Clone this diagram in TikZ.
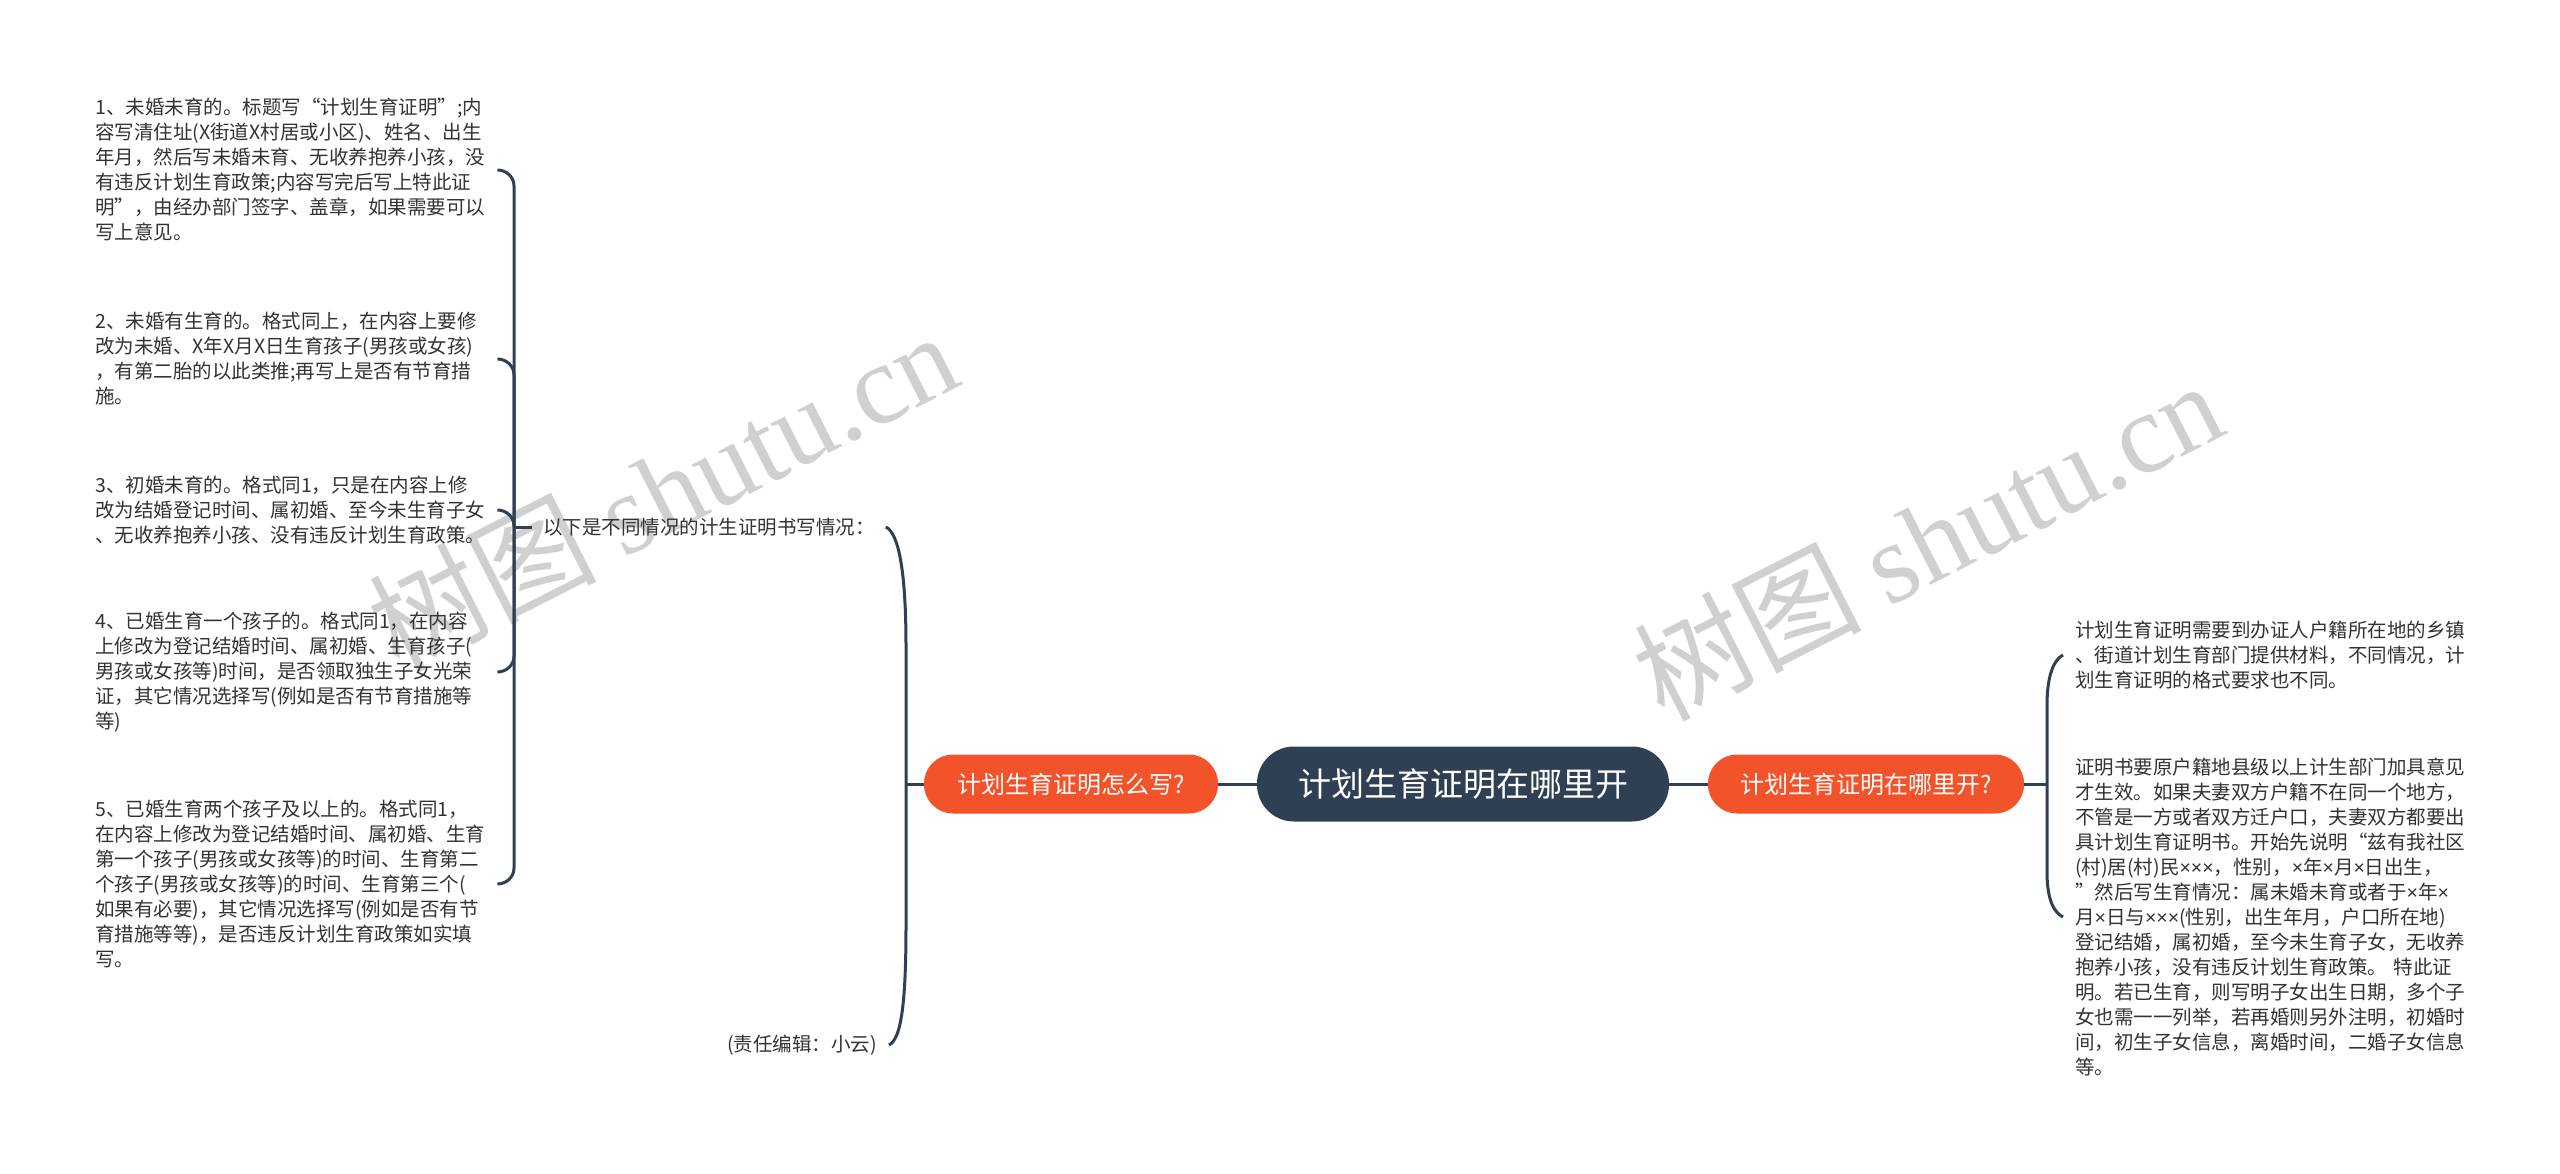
\documentclass[tikz,border=0pt]{standalone}
\usepackage{fontspec}
\setmainfont{Noto Sans CJK SC}
\newfontfamily\wmserif{Liberation Serif}
\newfontfamily\wmcjk{Noto Sans CJK SC}
\newfontfamily\latinsans{Liberation Sans}
\newcommand{\tms}{{\latinsans ×}}
\usetikzlibrary{calc}
\definecolor{dark}{HTML}{2F4054}
\definecolor{orng}{HTML}{F2532A}
\definecolor{txt}{HTML}{333333}
\definecolor{wm}{HTML}{D0D0D0}
\begin{document}
\begin{tikzpicture}[x=1pt,y=-1pt,
  conn/.style={draw=dark, line width=3pt},
  central/.style={fill=dark, text=white, rounded corners=37pt, minimum width=412pt, minimum height=75pt, inner sep=0pt, font=\fontsize{33}{40}\selectfont},
  topic/.style={fill=orng, text=white, rounded corners=29pt, minimum height=59pt, inner sep=0pt, font=\fontsize{24}{30}\selectfont},
  leaf/.style={text=txt, align=left, inner sep=0pt, font=\fontsize{19.5}{25}\selectfont},
  wmark/.style={text=wm, rotate=27, inner sep=0pt, font=\fontsize{114}{120}\selectfont}
]
\fill[white] (0,0) rectangle (2560,1174);

% watermarks
\node[wmark] (wm1) at (662,490) {\wmcjk 树图 \wmserif shutu.cn};
\node[wmark] (wm2) at (1927,539) {\wmcjk 树图 \wmserif shutu.cn};

% main nodes
\node[central] (C) at (1463,784) {计划生育证明在哪里开};
\node[topic, minimum width=294pt] (L) at (1071,784) {计划生育证明怎么写?};
\node[topic, minimum width=316pt] (R) at (1866,784) {计划生育证明在哪里开?};

% left second level
\node[leaf, anchor=west, inner xsep=11pt] (T0) at (532,527) {以下是不同情况的计生证明书写情况：};
\node[leaf, anchor=east, inner xsep=12pt] (T1) at (889,1045) {(责任编辑：小云)};

% left items
\node[leaf, anchor=west, text width=402pt] (c1) at (95,170) {1、未婚未育的。标题写“计划生育证明”;内\\容写清住址(X街道X村居或小区)、姓名、出生\\年月，然后写未婚未育、无收养抱养小孩，没\\有违反计划生育政策;内容写完后写上特此证\\明”，由经办部门签字、盖章，如果需要可以\\写上意见。};
\node[leaf, anchor=west, text width=402pt] (c2) at (95,359) {2、未婚有生育的。格式同上，在内容上要修\\改为未婚、X年X月X日生育孩子(男孩或女孩)\\，有第二胎的以此类推;再写上是否有节育措\\施。};
\node[leaf, anchor=west, text width=402pt] (c3) at (95,510) {3、初婚未育的。格式同1，只是在内容上修\\改为结婚登记时间、属初婚、至今未生育子女\\、无收养抱养小孩、没有违反计划生育政策。};
\node[leaf, anchor=west, text width=402pt] (c4) at (95,672) {4、已婚生育一个孩子的。格式同1，在内容\\上修改为登记结婚时间、属初婚、生育孩子(\\男孩或女孩等)时间，是否领取独生子女光荣\\证，其它情况选择写(例如是否有节育措施等\\等)};
\node[leaf, anchor=west, text width=402pt] (c5) at (95,884) {5、已婚生育两个孩子及以上的。格式同1，\\在内容上修改为登记结婚时间、属初婚、生育\\第一个孩子(男孩或女孩等)的时间、生育第二\\个孩子(男孩或女孩等)的时间、生育第三个(\\如果有必要)，其它情况选择写(例如是否有节\\育措施等等)，是否违反计划生育政策如实填\\写。};

% right items
\node[leaf, anchor=west, text width=410pt, inner xsep=12pt] (A) at (2063,655) {计划生育证明需要到办证人户籍所在地的乡镇\\、街道计划生育部门提供材料，不同情况，计\\划生育证明的格式要求也不同。};
\node[leaf, anchor=west, text width=410pt, inner xsep=12pt] (B) at (2063,917) {证明书要原户籍地县级以上计生部门加具意见\\才生效。如果夫妻双方户籍不在同一个地方，\\不管是一方或者双方迁户口，夫妻双方都要出\\具计划生育证明书。开始先说明“兹有我社区\\(村)居(村)民\tms\tms\tms，性别，\tms 年\tms 月\tms 日出生，\\”然后写生育情况：属未婚未育或者于\tms 年\tms\\月\tms 日与\tms\tms\tms(性别，出生年月，户口所在地)\\登记结婚，属初婚，至今未生育子女，无收养\\抱养小孩，没有违反计划生育政策。 特此证\\明。若已生育，则写明子女出生日期，多个子\\女也需一一列举，若再婚则另外注明，初婚时\\间，初生子女信息，离婚时间，二婚子女信息\\等。};

% junctions
\coordinate (J0) at (906,784);
\coordinate (J1) at (514,527);
\coordinate (J2) at (2047,784);

% connectors
\draw[conn] (C.west) -- (L.east);
\draw[conn] (C.east) -- (R.west);
\draw[conn] (L.west) -- (J0);
\draw[conn] (R.east) -- (J2);
\draw[conn] (T0.west) -- (J1);

\draw[conn] (J0) -- ($(J0|-T0.east)+(0,120)$) .. controls ($(J0|-T0.east)+(0,40)$) and ($(T0.east)+(12,6)$) .. (T0.east);
\draw[conn] (J0) -- ($(J0|-T1.east)+(0,-120)$) .. controls ($(J0|-T1.east)+(0,-40)$) and ($(T1.east)+(12,-6)$) .. (T1.east);

\draw[conn] (J1) -- ($(J1|-c1.east)+(0,16)$) .. controls ($(J1|-c1.east)+(0,7)$) and ($(c1.east)+(9,0)$) .. (c1.east);
\draw[conn] (J1) -- ($(J1|-c2.east)+(0,16)$) .. controls ($(J1|-c2.east)+(0,7)$) and ($(c2.east)+(9,0)$) .. (c2.east);
\draw[conn] (J1) -- ($(J1|-c3.east)+(0,16)$) .. controls ($(J1|-c3.east)+(0,7)$) and ($(c3.east)+(9,0)$) .. (c3.east);
\draw[conn] (J1) -- ($(J1|-c4.east)+(0,-16)$) .. controls ($(J1|-c4.east)+(0,-7)$) and ($(c4.east)+(9,0)$) .. (c4.east);
\draw[conn] (J1) -- ($(J1|-c5.east)+(0,-16)$) .. controls ($(J1|-c5.east)+(0,-7)$) and ($(c5.east)+(9,0)$) .. (c5.east);

\draw[conn] (J2) -- ($(J2|-A.west)+(0,50)$) .. controls ($(J2|-A.west)+(0,18)$) and ($(A.west)+(-8,4)$) .. (A.west);
\draw[conn] (J2) -- ($(J2|-B.west)+(0,-45)$) .. controls ($(J2|-B.west)+(0,-15)$) and ($(B.west)+(-8,-4)$) .. (B.west);
\end{tikzpicture}
\end{document}
